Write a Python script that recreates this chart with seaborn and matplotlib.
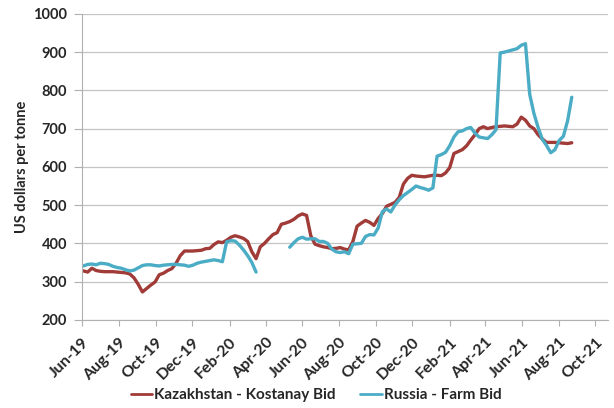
import numpy as np
import pandas as pd
import matplotlib
matplotlib.use("Agg")
import matplotlib.pyplot as plt
from matplotlib.transforms import ScaledTranslation
import seaborn as sns

nan = np.nan

# weekly bids, US$/t
start_date = "2019-06-03"
kazakhstan = [
    328, 325, 335, 329, 327, 326, 326, 326, 325, 324,
    323, 320, 310, 293, 273, 282, 291, 299, 318, 322,
    329, 334, 348, 368, 380, 380, 380, 381, 382, 386,
    387, 397, 404, 402, 408, 416, 420, 417, 413, 405,
    378, 360, 391, 400, 412, 423, 428, 450, 453, 457,
    463, 472, 477, 473, 420, 398, 394, 391, 389, 386,
    387, 389, 385, 383, 405, 445, 453, 460, 455, 447,
    465, 478, 497, 502, 507, 520, 555, 570, 578, 576,
    575, 574, 576, 578, 578, 577, 584, 598, 635, 640,
    645, 655, 670, 684, 700, 705, 700, 703, 705, 706,
    707, 706, 705, 712, 730, 722, 707, 700, 684, 673,
    664, 664, 664, 663, 662, 661, 663,
]
russia = [
    341, 345, 346, 344, 348, 347, 345, 340, 337, 335,
    331, 328, 330, 336, 342, 344, 344, 342, 341, 343,
    344, 345, 345, 344, 343, 340, 343, 348, 351, 353,
    355, 357, 355, 352, 404, 407, 406, 396, 383, 368,
    350, 325, nan, nan, nan, nan, nan, nan, nan, 390,
    402, 412, 416, 411, 412, 412, 405, 405, 400, 385,
    378, 376, 378, 373, 398, 399, 400, 418, 423, 422,
    440, 483, 490, 482, 500, 514, 525, 533, 541, 550,
    546, 543, 539, 545, 628, 632, 638, 655, 678, 692,
    694, 700, 703, 688, 678, 676, 674, 684, 697, 898,
    900, 903, 906, 909, 918, 922, 790, 740, 703, 672,
    656, 637, 645, 669, 680, 720, 782,
]
series_names = ["Kazakhstan - Kostanay Bid", "Russia - Farm Bid"]
colors = ["#A03B38", "#4BACC6"]

dates = pd.date_range(start_date, periods=len(kazakhstan), freq="7D")

frames = []
for name, vals in zip(series_names, [kazakhstan, russia]):
    d = pd.DataFrame({"date": dates, "price": vals, "series": name})
    # split at missing weeks so the line shows a gap
    d["unit"] = name + d["price"].isna().cumsum().astype(str)
    frames.append(d.dropna())
df = pd.concat(frames, ignore_index=True)

sns.set_style("white")
plt.rcParams["font.family"] = ["Lato", "DejaVu Sans"]
font = dict(weight="bold", size=10.5)

fig = plt.figure(figsize=(6.14, 4.08), dpi=100)
ax = fig.add_axes([0.134, 0.216, 0.856, 0.75])

sns.lineplot(data=df, x="date", y="price", hue="series", units="unit",
             estimator=None, palette=dict(zip(series_names, colors)),
             linewidth=2.4, ax=ax)

ax.set_ylim(200, 1000)
ax.set_yticks(range(200, 1001, 100))
ax.set_xlim(pd.Timestamp("2019-06-01"), pd.Timestamp("2021-10-22"))
xt = pd.date_range("2019-06-01", "2021-10-01", freq="2MS")
ax.set_xticks(xt)
ax.set_xticklabels([d.strftime("%b-%y") for d in xt], rotation=45,
                   ha="right", rotation_mode="anchor", weight="bold", size=11.5)
ax.set_yticklabels([str(v) for v in range(200, 1001, 100)], **font)
shift = ScaledTranslation(0.04, 0, fig.dpi_scale_trans)
for lbl in ax.get_xticklabels():
    lbl.set_transform(lbl.get_transform() + shift)

ax.yaxis.grid(True, color="#c4c4c4", lw=0.9)
ax.xaxis.grid(False)
for s in ["top", "right"]:
    ax.spines[s].set_visible(False)
for s in ["left", "bottom"]:
    ax.spines[s].set_color("#b0b0b0")
ax.tick_params(axis="x", direction="out", length=4, color="#b0b0b0",
               bottom=True, pad=7)
ax.tick_params(axis="y", direction="out", length=6, color="#b0b0b0",
               left=True, pad=5)

ax.set_xlabel("")
ax.set_ylabel("US dollars per tonne", labelpad=3, **font)

handles, labels = ax.get_legend_handles_labels()
keep = [(h, l) for h, l in zip(handles, labels) if l in series_names]
leg = ax.legend([h for h, _ in keep], [l for _, l in keep], loc="center",
                bbox_to_anchor=(0.515, 0.032), bbox_transform=fig.transFigure,
                ncol=2, frameon=False, handlelength=1.4, handletextpad=0.15,
                columnspacing=1.6, prop=dict(weight="bold", size=11))
for line in leg.get_lines():
    line.set_linewidth(2.0)

fig.savefig("out.png", dpi=100)
